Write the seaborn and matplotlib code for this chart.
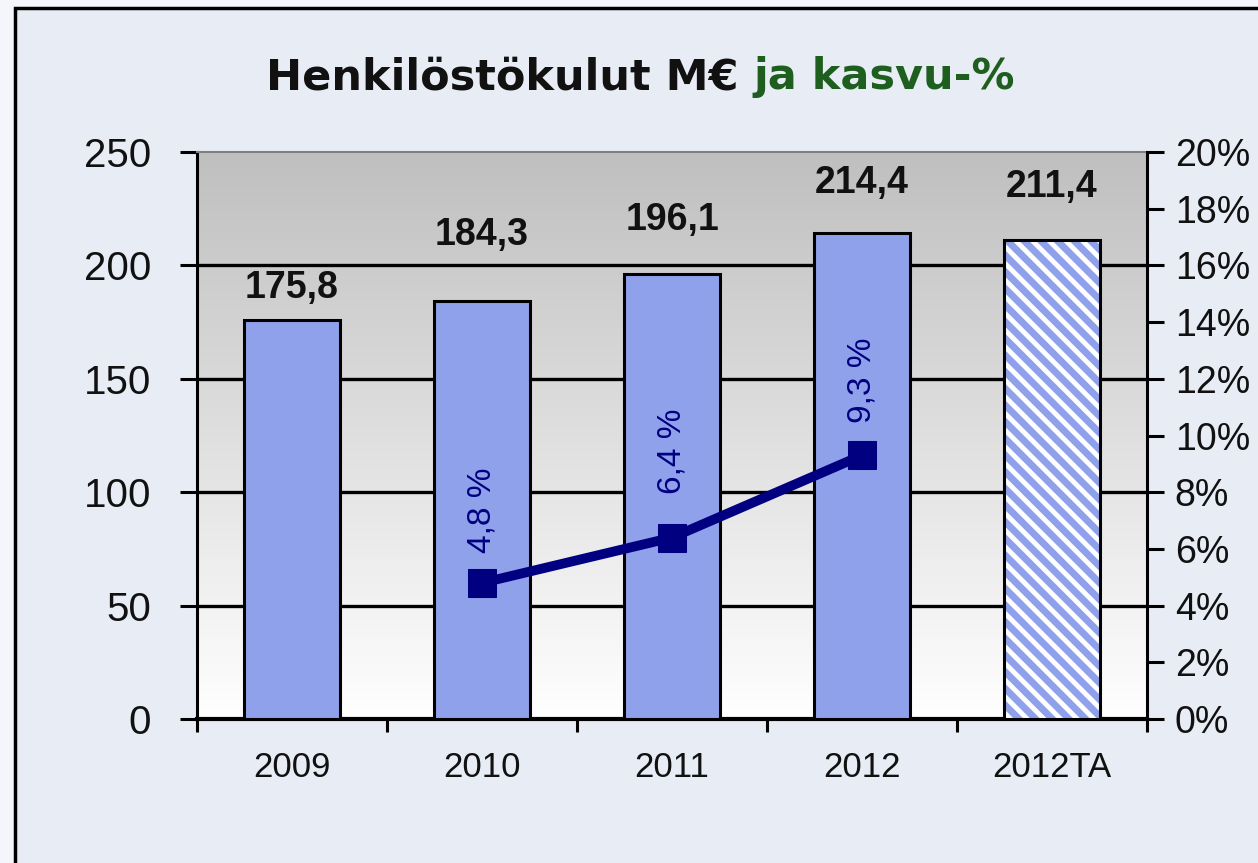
import numpy as np
import pandas as pd
import matplotlib
matplotlib.use("Agg")
import matplotlib.pyplot as plt
import matplotlib.patches as mpatches
import seaborn as sns

# ---- data ----
categories = ["2009", "2010", "2011", "2012", "2012TA"]
costs = [175.8, 184.3, 196.1, 214.4, 211.4]
cost_labels = ["175,8", "184,3", "196,1", "214,4", "211,4"]
growth = [np.nan, 4.8, 6.4, 9.3, np.nan]
growth_labels = ["", "4,8 %", "6,4 %", "9,3 %", ""]
left_ticks = [0, 50, 100, 150, 200, 250]
right_ticks = [0, 2, 4, 6, 8, 10, 12, 14, 16, 18, 20]
right_tick_labels = [f"{t}%" for t in right_ticks]
title_black = "Henkilöstökulut M€ "
title_green = "ja kasvu-%"

# ---- style (label offsets in pixels) ----
cost_label_offsets = [32, 66, 54, 50, 53]
growth_label_offsets = [0, 30, 44, 32, 0]

sns.set_theme(style="white")
plt.rcParams['font.family'] = ['Liberation Sans', 'DejaVu Sans']
plt.rcParams['hatch.linewidth'] = 5

BAR = "#8FA1EA"
NAVY = "#000080"
DPI = 100

fig = plt.figure(figsize=(12.58, 8.63), dpi=DPI, facecolor="#F4F6FB")
# outer frame
frame = mpatches.Rectangle((15 / 1258, -0.05), 1.1, 1.05 - 8 / 863,
                           transform=fig.transFigure, facecolor="#E8ECF5",
                           edgecolor="black", linewidth=2.5, zorder=-10)
fig.patches.append(frame)

ax = fig.add_axes([197 / 1258, 1 - 719 / 863, (1147 - 197) / 1258, (719 - 152) / 863])
df = pd.DataFrame({"cat": categories, "cost": costs})
sns.barplot(data=df, x="cat", y="cost", ax=ax, color=BAR, saturation=1,
            width=0.51, edgecolor="black", linewidth=2.2, zorder=3)
ax.set_xlim(-0.5, len(categories) - 0.5)
ax.set_ylim(0, 250)

# gradient background
grad = np.linspace(0, 1, 256).reshape(-1, 1)
top_c = np.array([0.75, 0.75, 0.75])
bot_c = np.array([1.0, 1.0, 1.0])
img = bot_c + (top_c - bot_c) * grad[..., None]
ax.imshow(img, extent=[-0.5, len(categories) - 0.5, 0, 250], origin="lower",
          aspect="auto", zorder=0)
ax.set_xlim(-0.5, len(categories) - 0.5)
ax.set_ylim(0, 250)

# gridlines
for t in left_ticks[1:-1]:
    ax.axhline(t, color="black", linewidth=2.4, zorder=1)

# hatched forecast bar
p = ax.patches[-1]
p.set_facecolor("white")
p.set_edgecolor(BAR)
p.set_hatch("\\\\")
p.set_linewidth(0)
ax.add_patch(mpatches.Rectangle(p.get_xy(), p.get_width(), p.get_height(),
                                facecolor="none", edgecolor="black",
                                linewidth=2.2, zorder=4))

# bar labels
for i, bp in enumerate(ax.patches[:len(categories)]):
    cx = bp.get_x() + bp.get_width() / 2
    ax.annotate(cost_labels[i], (cx, costs[i]), xytext=(0, cost_label_offsets[i] * 72 / DPI),
                textcoords="offset points", ha="center", va="center",
                fontsize=27, fontweight="bold", color="#111111", zorder=5)

ax.set_xlabel("")
ax.set_ylabel("")
ax.set_yticks(left_ticks)
ax.set_yticklabels([str(t) for t in left_ticks])
ax.tick_params(axis="y", direction="out", length=12, width=2.2, color="black",
               pad=21, labelsize=29, labelcolor="#111111", left=True)
ax.set_xticks(range(len(categories)))
ax.set_xticklabels(categories)
ax.set_xticks(np.arange(-0.5, len(categories)), minor=True)
ax.tick_params(axis="x", which="major", length=0, pad=23, labelsize=25, labelcolor="#111111")
ax.tick_params(axis="x", which="minor", direction="out", length=9, width=2.2,
               color="black", bottom=True)
ax.spines["left"].set_color("black")
ax.spines["left"].set_linewidth(2.2)
ax.spines["bottom"].set_color("black")
ax.spines["bottom"].set_linewidth(3)
ax.spines["top"].set_color("#808080")
ax.spines["top"].set_linewidth(1.5)
ax.spines["right"].set_visible(False)

# growth line
ax2 = ax.twinx()
gdf = pd.DataFrame({"x": list(range(len(categories))), "g": growth})
sns.lineplot(data=gdf, x="x", y="g", ax=ax2, color=NAVY, linewidth=7,
             marker="s", markersize=20, markeredgecolor=NAVY, zorder=6)
ax2.set_ylim(0, 20)
ax2.set_xlim(-0.5, len(categories) - 0.5)
ax2.set_yticks(right_ticks)
ax2.set_yticklabels(right_tick_labels)
ax2.set_ylabel("")
ax2.set_xlabel("")
ax2.tick_params(axis="y", direction="out", length=12, width=2.2, color="black",
                pad=8, labelsize=27, labelcolor="#111111", right=True)
for s in ["left", "top", "bottom"]:
    ax2.spines[s].set_visible(False)
ax2.spines["right"].set_color("black")
ax2.spines["right"].set_linewidth(2.2)

for i, lab in enumerate(growth_labels):
    if lab:
        ax2.annotate(lab, (i, growth[i]), xytext=(0, growth_label_offsets[i] * 72 / DPI),
                     textcoords="offset points", ha="center", va="bottom",
                     rotation=90, fontsize=24, color=NAVY, zorder=7)

# title with two colours
fig.canvas.draw()
r = fig.canvas.get_renderer()
tfam = ['DejaVu Sans']
t1 = fig.text(0, 1 - 77 / 863, title_black, fontsize=31, fontweight="bold",
              color="#111111", va="center", ha="left", family=tfam)
t2 = fig.text(0, 1 - 77 / 863, title_green, fontsize=31, fontweight="bold",
              color="#1E5E1E", va="center", ha="left", family=tfam)
w1 = t1.get_window_extent(r).width
w2 = t2.get_window_extent(r).width
cx = 640
start = cx - (w1 + w2) / 2
t1.set_x(start / 1258)
t2.set_x((start + w1) / 1258)

fig.savefig("out.png", dpi=DPI, facecolor=fig.get_facecolor())
